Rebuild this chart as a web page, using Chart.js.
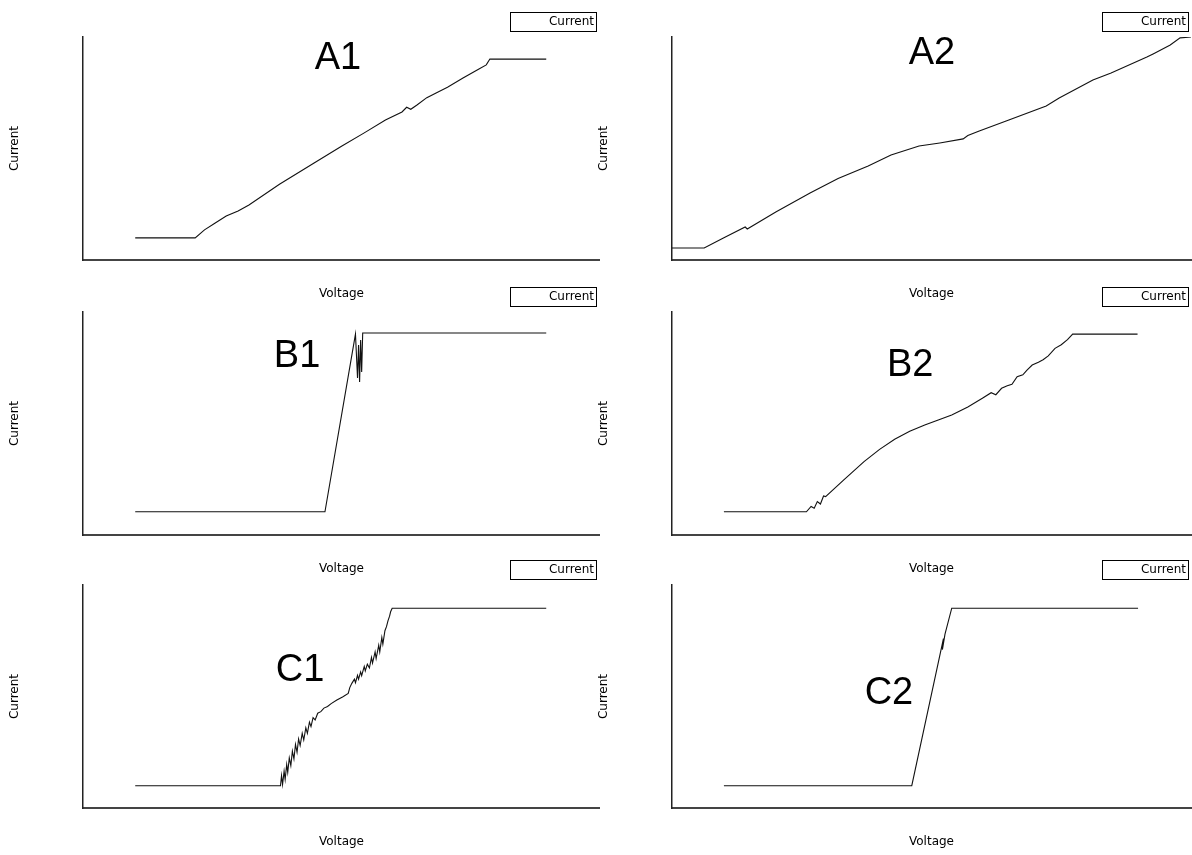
<!DOCTYPE html>
<html>
<head>
<meta charset="utf-8">
<script src="https://cdn.jsdelivr.net/npm/chart.js@4.4.1/dist/chart.umd.min.js"></script>
<style>
    body { margin: 0; background: #fff; width: 1192px; height: 855px; overflow: hidden; position: relative; }
    canvas { position: absolute; }
</style>
</head>
<body>
<canvas id="chartA1" width="600" height="310" style="left:0px;top:0px"></canvas>
<canvas id="chartA2" width="596" height="310" style="left:596px;top:0px"></canvas>
<canvas id="chartB1" width="600" height="310" style="left:0px;top:275px"></canvas>
<canvas id="chartB2" width="596" height="310" style="left:596px;top:275px"></canvas>
<canvas id="chartC1" width="600" height="310" style="left:0px;top:548px"></canvas>
<canvas id="chartC2" width="596" height="310" style="left:596px;top:548px"></canvas>
<script>
// Sweep data (axes have no ticks, so 0-100 on both)

let a1Voltage = [10.1, 21.7, 23.5, 25.5, 27.7, 30.0, 32.1, 38.0, 44.7, 50.0, 54.4, 58.5, 61.7, 62.6, 63.4, 64.6, 66.5, 68.3, 70.5, 73.5, 76.5, 78.0, 78.7, 89.6]
let a1Current = [9.9, 9.9, 13.5, 16.5, 19.7, 22.0, 24.7, 34.0, 43.5, 51.0, 57.0, 62.8, 66.4, 68.5, 67.6, 69.5, 72.8, 74.9, 77.5, 81.6, 85.5, 87.5, 90.1, 90.1]

let a2Voltage = [0, 6.2, 10.0, 14.1, 14.5, 20.0, 26.6, 32.0, 37.8, 42.2, 47.6, 51.6, 56.1, 57.0, 59.2, 64.9, 72.1, 74.6, 81.1, 84.6, 91.5, 92.7, 96.0, 97.9, 100]
let a2Current = [5.4, 5.4, 10.0, 14.8, 13.9, 21.5, 30.0, 36.5, 42.2, 47.1, 51.1, 52.5, 54.3, 55.8, 57.8, 62.8, 69.1, 72.6, 80.7, 83.9, 91.0, 92.4, 96.4, 99.6, 100]

let b1Voltage = [10.1, 46.8, 52.7, 53.1, 53.3, 53.5, 53.7, 53.9, 54.1, 89.6]
let b1Current = [10.4, 10.4, 90.1, 70.4, 85.2, 68.6, 87.4, 73.1, 90.6, 90.6]

let b2Voltage = [10.0, 25.9, 26.8, 27.4, 28.0, 28.6, 29.2, 29.6, 33.0, 37.0, 40.0, 42.9, 45.8, 48.7, 51.3, 53.9, 57.0, 59.8, 61.5, 62.4, 63.5, 64.6, 65.5, 66.5, 67.6, 68.4, 69.4, 70.6, 71.5, 72.5, 73.8, 75.0, 76.2, 77.2, 89.7]
let b2Current = [10.4, 10.4, 12.8, 12.0, 15.0, 13.9, 17.5, 17.2, 24.5, 32.9, 38.4, 42.9, 46.5, 49.3, 51.6, 53.8, 57.4, 61.3, 63.8, 62.9, 65.8, 66.9, 67.6, 71.0, 71.8, 73.9, 76.2, 77.5, 78.6, 80.3, 83.7, 85.3, 87.6, 90.1, 90.1]

let c1Voltage = [10.1, 37.6, 38.2, 38.4, 38.6, 38.9, 39.1, 39.4, 39.6, 39.9, 40.2, 40.5, 40.8, 41.1, 41.4, 41.7, 42.0, 42.4, 42.7, 43.1, 43.4, 43.8, 44.1, 44.5, 44.9, 45.4, 46.0, 46.6, 47.3, 48.0, 49.1, 50.2, 51.3, 51.6, 52.0, 52.5, 52.7, 53.1, 53.3, 53.7, 53.9, 54.4, 54.6, 55.0, 55.4, 55.8, 56.0, 56.5, 56.7, 57.2, 57.4, 57.8, 58.0, 58.4, 58.7, 59.0, 59.3, 59.5, 59.8, 89.6]
let c1Current = [10.0, 10.0, 10.0, 14.5, 10.5, 16.5, 12.8, 19.5, 16.0, 22.5, 19.0, 25.5, 22.0, 28.5, 25.0, 31.0, 28.0, 33.5, 30.5, 36.0, 33.5, 38.5, 36.5, 40.5, 39.5, 42.5, 43.2, 44.8, 45.5, 46.8, 48.4, 49.8, 51.4, 54.0, 55.9, 57.8, 56.2, 59.5, 57.8, 61.0, 59.3, 63.5, 61.5, 64.5, 62.8, 67.5, 65.0, 70.0, 67.0, 73.0, 70.0, 76.5, 73.5, 79.5, 81.3, 84.0, 86.0, 88.0, 89.6, 89.6]

let c2Voltage = [10.0, 46.2, 52.3, 52.1, 52.6, 53.9, 89.8]
let c2Current = [10.0, 10.0, 76.0, 71.0, 78.0, 89.6, 89.6]

let panelNames = ['A1', 'A2', 'B1', 'B2', 'C1', 'C2']
let seriesName = 'Current'
let xTitle = 'Voltage'
let yTitle = 'Current'

// where the big panel letters sit, in data units
let labelX = [49.3, 50.1, 41.4, 45.9, 42.0, 41.8]
let labelY = [91.9, 94.2, 81.6, 77.6, 63.2, 52.9]

Chart.defaults.font.family = "'DejaVu Sans', sans-serif"
Chart.defaults.font.size = 12
Chart.defaults.color = '#000'

// boxed legend in the top right corner + the big panel name
let panelDecor = {
    id: 'panelDecor',
    afterDraw(chart, args, opts) {
        let ctx = chart.ctx
        let w = chart.width
        ctx.save()
        ctx.strokeStyle = '#000'
        ctx.lineWidth = 1
        ctx.strokeRect(w - 89.5, 12.5, 86, 19)
        ctx.fillStyle = '#000'
        ctx.font = "12px 'DejaVu Sans', sans-serif"
        ctx.textAlign = 'right'
        ctx.textBaseline = 'middle'
        ctx.fillText(seriesName, w - 6, 22)

        let px = chart.scales.x.getPixelForValue(opts.lx)
        let py = chart.scales.y.getPixelForValue(opts.ly)
        ctx.font = "38px 'Liberation Sans', Arial, sans-serif"
        ctx.textAlign = 'center'
        ctx.textBaseline = 'alphabetic'
        ctx.fillText(opts.name, px, py + 38 * 0.358)
        ctx.restore()
    }
}

let makePanel = function(id, index, voltage, current, side) {
    let ctx = document.getElementById(id).getContext('2d')
    let points = voltage.map((v, i) => ({x: v, y: current[i]}))
    let titleTop = side === 'left' ? 7.8 : 0.8

    return new Chart(ctx, {
        type: 'line',
        plugins: [panelDecor],
        data: {
            datasets: [{
                label: seriesName,
                data: points,
                borderColor: '#111',
                borderWidth: 1.1,
                pointRadius: 0,
                tension: 0,
                fill: false
            }]
        },
        options: {
            responsive: false,
            animation: false,
            events: [],
            layout: {
                padding: {left: 0, right: side === 'left' ? 0 : 1, top: 37, bottom: 4.6}
            },
            plugins: {
                legend: {display: false},
                tooltip: {enabled: false},
                panelDecor: {name: panelNames[index], lx: labelX[index], ly: labelY[index]}
            },
            scales: {
                x: {
                    type: 'linear',
                    min: 0,
                    max: 100,
                    grid: {display: false, drawTicks: false},
                    ticks: {display: false},
                    border: {display: true, color: '#444', width: 2},
                    title: {display: true, text: xTitle, padding: {top: 27, bottom: 4}}
                },
                y: {
                    min: 0,
                    max: 100,
                    grid: {display: false, drawTicks: false},
                    ticks: {display: false},
                    border: {display: true, color: '#222', width: 1.5},
                    title: {display: true, text: yTitle, padding: {top: titleTop, bottom: 60.8}}
                }
            }
        }
    })
}

makePanel('chartA1', 0, a1Voltage, a1Current, 'left')
makePanel('chartA2', 1, a2Voltage, a2Current, 'right')
makePanel('chartB1', 2, b1Voltage, b1Current, 'left')
makePanel('chartB2', 3, b2Voltage, b2Current, 'right')
makePanel('chartC1', 4, c1Voltage, c1Current, 'left')
makePanel('chartC2', 5, c2Voltage, c2Current, 'right')
</script>
</body>
</html>
